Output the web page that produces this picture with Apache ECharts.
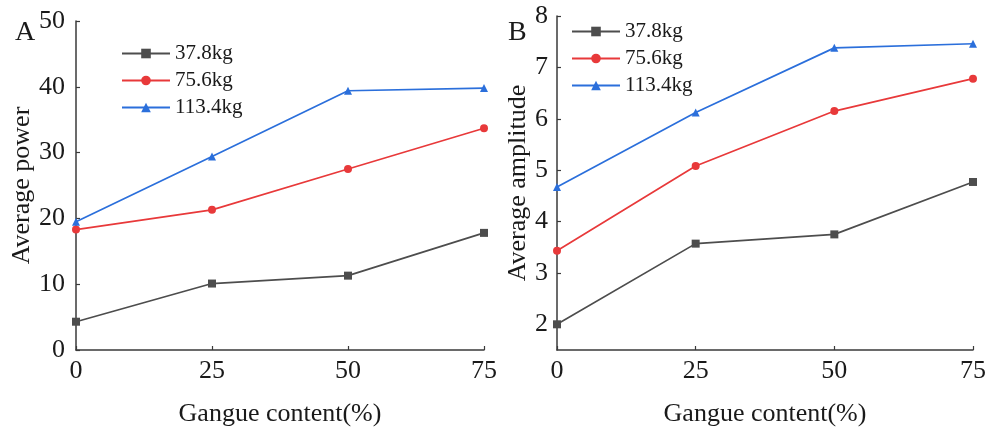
<!DOCTYPE html>
<html>
<head>
<meta charset="utf-8">
<script src="https://cdn.jsdelivr.net/npm/echarts@6/dist/echarts.min.js"></script>
<style>
  html, body { margin: 0; padding: 0; background: #fff; }
  #chart { width: 1000px; height: 432px; }
</style>
</head>
<body>
<div id="chart"></div>
<script>
// Gangue content levels (%)
const gangueContent = [0, 25, 50, 75];
// Load mass series names
const seriesNames = ['37.8kg', '75.6kg', '113.4kg'];
const seriesColors = ['#4d4d4d', '#e8393a', '#2b6fdb'];
const seriesSymbols = ['rect', 'circle', 'triangle'];

// Panel A: average power
const powerLow = [4.3, 10.1, 11.3, 17.8];
const powerMid = [18.3, 21.3, 27.5, 33.7];
const powerHigh = [19.5, 29.4, 39.4, 39.8];

// Panel B: average amplitude
const ampLow = [2.0, 3.57, 3.75, 4.77];
const ampMid = [3.43, 5.08, 6.15, 6.78];
const ampHigh = [4.67, 6.12, 7.38, 7.46];

// Tick values
const xTicks = [0, 25, 50, 75];
const powerTicks = [0, 10, 20, 30, 40, 50];
const ampTicks = [2, 3, 4, 5, 6, 7, 8];

const FONT = "'Liberation Serif', 'Times New Roman', serif";
const AXIS_COLOR = '#3a3a3a';
const TEXT_COLOR = '#1a1a1a';

function pairs(ys) {
  return gangueContent.map((x, i) => [x, ys[i]]);
}

function xAxis(gridIndex) {
  return {
    type: 'value', gridIndex,
    min: xTicks[0], max: xTicks[xTicks.length - 1], interval: 25,
    name: 'Gangue content(%)', nameLocation: 'middle', nameGap: 51,
    nameTextStyle: { fontFamily: FONT, fontSize: 26, color: TEXT_COLOR },
    axisLine: { show: true, onZero: false, lineStyle: { color: AXIS_COLOR, width: 1.5 } },
    axisTick: { show: true, inside: true, length: 4, lineStyle: { color: AXIS_COLOR, width: 1.2 } },
    axisLabel: { fontFamily: FONT, fontSize: 26, color: TEXT_COLOR, margin: 8 },
    splitLine: { show: false }
  };
}

const lineSeries = (data, i, xi, yi) => ({
  name: seriesNames[i], type: 'line', xAxisIndex: xi, yAxisIndex: yi,
  data: pairs(data), color: seriesColors[i],
  symbol: seriesSymbols[i], symbolSize: 8,
  lineStyle: { width: 1.7, color: seriesColors[i] },
  itemStyle: { color: seriesColors[i] },
  emphasis: { disabled: true }, animation: false
});

function legend(left, top) {
  return {
    data: seriesNames, orient: 'vertical', left, top,
    itemWidth: 48, itemHeight: 12, itemGap: 6,
    textStyle: { fontFamily: FONT, fontSize: 21, color: TEXT_COLOR, lineHeight: 21 }
  };
}

const chart = echarts.init(document.getElementById('chart'), null, { renderer: 'canvas' });
chart.setOption({
  backgroundColor: '#fff',
  animation: false,
  title: [
    { text: 'A', left: 10, top: 14, textStyle: { fontFamily: FONT, fontSize: 28, fontWeight: 'normal', color: TEXT_COLOR } },
    { text: 'B', left: 503, top: 14, textStyle: { fontFamily: FONT, fontSize: 28, fontWeight: 'normal', color: TEXT_COLOR } }
  ],
  legend: [legend(116, 38), legend(566, 16)],
  grid: [
    { left: 76, top: 21, width: 408, height: 330 },
    { left: 557, top: 16, width: 416, height: 338 }
  ],
  xAxis: [xAxis(0), xAxis(1)],
  yAxis: [
    {
      type: 'value', gridIndex: 0, min: powerTicks[0], max: powerTicks[powerTicks.length - 1], interval: 10,
      name: 'Average power', nameLocation: 'middle', nameGap: 36,
      nameTextStyle: { fontFamily: FONT, fontSize: 26, color: TEXT_COLOR },
      axisLine: { show: true, onZero: false, lineStyle: { color: AXIS_COLOR, width: 1.5 } },
      axisTick: { show: true, inside: true, length: 4, lineStyle: { color: AXIS_COLOR, width: 1.2 } },
      axisLabel: { fontFamily: FONT, fontSize: 26, color: TEXT_COLOR, margin: 11 },
      splitLine: { show: false }
    },
    {
      type: 'value', gridIndex: 1, min: 1.5, max: 8,
      name: 'Average amplitude', nameLocation: 'middle', nameGap: 26,
      nameTextStyle: { fontFamily: FONT, fontSize: 26, color: TEXT_COLOR },
      axisLine: { show: true, onZero: false, lineStyle: { color: AXIS_COLOR, width: 1.5 } },
      axisTick: { show: true, inside: true, length: 4, customValues: ampTicks, lineStyle: { color: AXIS_COLOR, width: 1.2 } },
      axisLabel: { fontFamily: FONT, fontSize: 26, color: TEXT_COLOR, margin: 9, customValues: ampTicks },
      splitLine: { show: false }
    }
  ],
  series: [
    lineSeries(powerLow, 0, 0, 0),
    lineSeries(powerMid, 1, 0, 0),
    lineSeries(powerHigh, 2, 0, 0),
    lineSeries(ampLow, 0, 1, 1),
    lineSeries(ampMid, 1, 1, 1),
    lineSeries(ampHigh, 2, 1, 1)
  ]
});
</script>
</body>
</html>
